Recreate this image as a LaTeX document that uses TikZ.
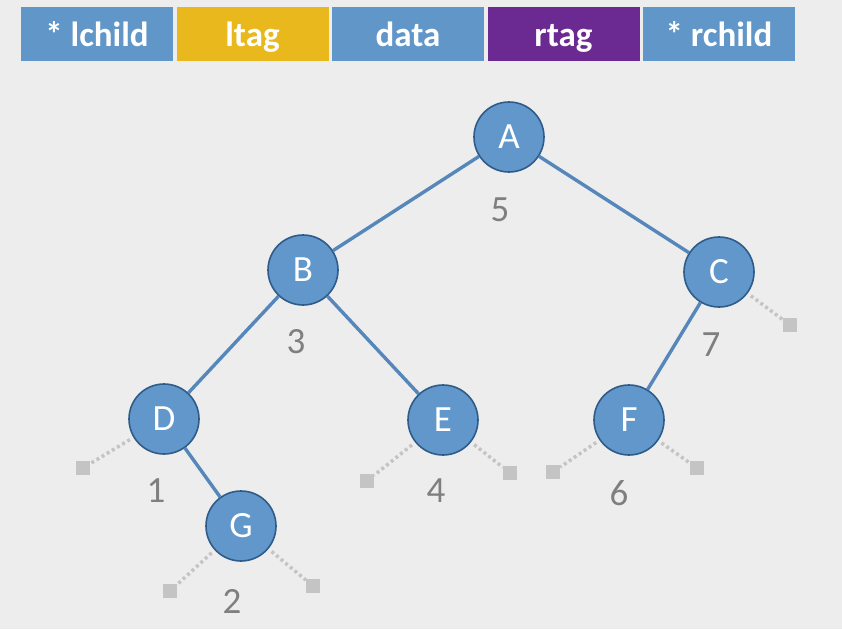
\documentclass[tikz,border=0pt]{standalone}
\usepackage{fontspec}
\setmainfont{Carlito}
\usetikzlibrary{matrix}

\definecolor{bgcol}{HTML}{EDEDED}
\definecolor{bluecol}{HTML}{6096C8}
\definecolor{nodecol}{HTML}{6197CA}
\definecolor{rimcol}{HTML}{2E5B88}
\definecolor{edgecol}{HTML}{5587BA}
\definecolor{ltagcol}{HTML}{E8B81C}
\definecolor{rtagcol}{HTML}{6B2A92}
\definecolor{nilcol}{HTML}{C4C4C4}
\definecolor{numcol}{HTML}{7F7F7F}

\begin{document}
\begin{tikzpicture}[x=1pt, y=-1pt,
	treenode/.style={circle, draw=rimcol, line width=1.6pt, fill=nodecol, minimum size=70pt, inner sep=0pt,
		text=white, font=\fontsize{37}{40}\selectfont},
	weight/.style={text=numcol, inner sep=0pt, font=\fontsize{37}{40}\selectfont},
	edge/.style={draw=edgecol, line width=3.4pt},
	nilbox/.style={rectangle, fill=nilcol, minimum size=14pt, inner sep=0pt},
	nilline/.style={draw=nilcol, line width=3.5pt, dash pattern=on 3pt off 3pt, shorten <=4pt}]
	
	\fill[bgcol] (0,0) rectangle (842,629);
	
	% node layout header
	\matrix (fields) at (408,34) [matrix of nodes, ampersand replacement=\&,
	column sep=3.5pt,
	nodes={fill=bluecol, minimum width=152pt, minimum height=54pt, inner sep=0pt,
		text height=29pt, text depth=4pt,
		text=white, font=\bfseries\fontsize{35}{38}\selectfont}]
	{
		* lchild \& |[fill=ltagcol]| ltag \& data \& |[fill=rtagcol]| rtag \& * rchild\\
	};
	
	% tree
	\node[treenode] (A) at (509,137) {A};
	\node[treenode] (B) at (303,270) {B};
	\node[treenode] (C) at (719,272) {C};
	\node[treenode] (D) at (164,419) {D};
	\node[treenode] (E) at (443,420) {E};
	\node[treenode] (F) at (629,420) {F};
	\node[treenode] (G) at (241,526) {G};
	
	\draw[edge] (A) -- (B);
	\draw[edge] (A) -- (C);
	\draw[edge] (B) -- (D);
	\draw[edge] (B) -- (E);
	\draw[edge] (C) -- (F);
	\draw[edge] (D) -- (G);
	
	% in-order numbers
	\node[weight] (wA) at (500,210) {5};
	\node[weight] (wB) at (296,342) {3};
	\node[weight] (wC) at (711,345) {7};
	\node[weight] (wD) at (156,491) {1};
	\node[weight] (wE) at (436,491) {4};
	\node[weight] (wF) at (619,493) {6};
	\node[weight] (wG) at (232,601) {2};
	
	% empty children
	\node[nilbox] (Cr) at (790,325) {};
	\node[nilbox] (Dl) at (83,468) {};
	\node[nilbox] (El) at (367,481) {};
	\node[nilbox] (Er) at (510,473) {};
	\node[nilbox] (Fl) at (553,472) {};
	\node[nilbox] (Fr) at (697,468) {};
	\node[nilbox] (Gl) at (170,591) {};
	\node[nilbox] (Gr) at (313,586) {};
	
	\draw[nilline] (C) -- (Cr);
	\draw[nilline] (D) -- (Dl);
	\draw[nilline] (E) -- (El);
	\draw[nilline] (E) -- (Er);
	\draw[nilline] (F) -- (Fl);
	\draw[nilline] (F) -- (Fr);
	\draw[nilline] (G) -- (Gl);
	\draw[nilline] (G) -- (Gr);
	
\end{tikzpicture}
\end{document}
